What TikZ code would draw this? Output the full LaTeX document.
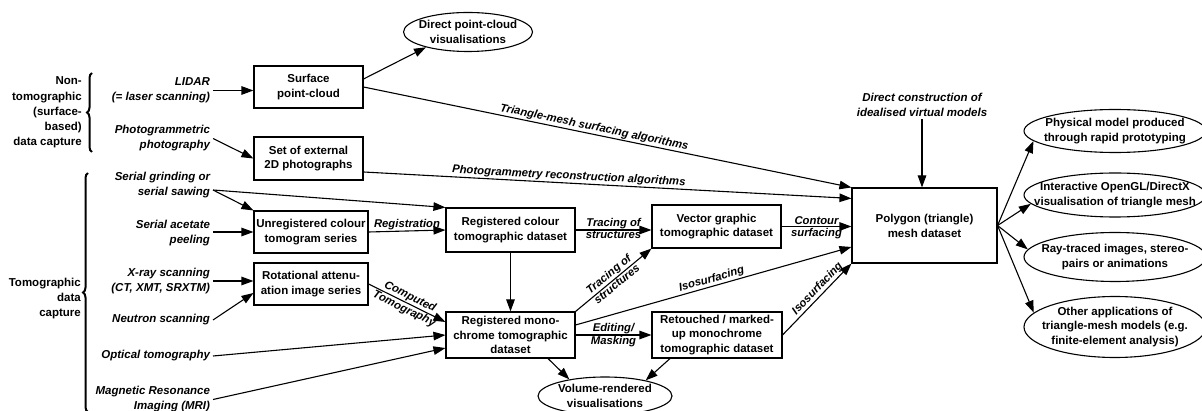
\documentclass[tikz,border=0pt]{standalone}
\usepackage{fontspec}
\setmainfont{Liberation Sans}
\usetikzlibrary{arrows.meta,shapes.geometric,decorations.pathreplacing,calc}
\begin{document}
\begin{tikzpicture}[x=1pt,y=-1pt,
 box/.style={draw,line width=1.1pt,align=center,font=\fontsize{11.5}{14.8}\selectfont\bfseries,inner sep=0pt},
 oval/.style={draw,ellipse,line width=1.1pt,align=center,font=\fontsize{11.5}{14.8}\selectfont\bfseries,inner xsep=-20pt,inner ysep=-2pt},
 src/.style={align=right,anchor=east,font=\fontsize{11.5}{15}\selectfont\bfseries\itshape,inner sep=0pt,outer sep=3pt},
 grp/.style={align=right,anchor=east,font=\fontsize{11.5}{15.2}\selectfont\bfseries,inner sep=0pt},
 arr/.style={-{Triangle[length=12pt,width=8.5pt]},line width=1.1pt},
 lbl/.style={font=\fontsize{11.3}{13}\selectfont\bfseries\itshape,inner sep=1pt},
 brc/.style={decorate,decoration={brace,amplitude=5pt},line width=2pt}]
\useasboundingbox (0,0) rectangle (1202,411);

% group labels and braces
\node[grp] (nt) at (82,112.5) {Non-\\tomographic\\(surface-\\based)\\data capture};
\node[grp] (tg) at (81,298.5) {Tomographic\\data\\capture};
\draw[brc] (92,152) -- (92,73);
\draw[brc] (88,412) -- (88,173);

% sources
\node[src] (lidar) at (213,90.5) {LIDAR\\(= laser scanning)};
\node[src] (photo) at (213,138.5) {Photogrammetric\\photography};
\node[src] (grind) at (213,185.5) {Serial grinding or\\serial sawing};
\node[src] (acet) at (213,233.5) {Serial acetate\\peeling};
\node[src] (xray) at (213,281) {X-ray scanning\\(CT, XMT, SRXTM)};
\node[src] (neut) at (213,320) {Neutron scanning};
\node[src] (opt) at (213,356) {Optical tomography};
\node[src] (mri) at (213,399.5) {Magnetic Resonance\\Imaging (MRI)};
\node[src,anchor=center,align=center] (dc) at (922,104.5) {Direct construction of\\idealised virtual models};

% boxes
\node[box,minimum width=109pt,minimum height=42pt] (sp) at (308.5,87) {Surface\\point-cloud};
\node[box,minimum width=109pt,minimum height=43pt] (ph) at (308.5,158.5) {Set of external\\2D photographs};
\node[box,minimum width=114pt,minimum height=42pt] (ur) at (311,232) {Unregistered colour\\tomogram series};
\node[box,minimum width=114pt,minimum height=42pt] (ra) at (311,284) {Rotational attenu-\\ation image series};
\node[box,minimum width=129pt,minimum height=44pt] (rc) at (510.5,230) {Registered colour\\tomographic dataset};
\node[box,minimum width=129pt,minimum height=46pt] (rm) at (510.5,335) {Registered mono-\\chrome tomographic\\dataset};
\node[box,minimum width=129pt,minimum height=43pt] (vg) at (716.5,226.5) {Vector graphic\\tomographic dataset};
\node[box,minimum width=130pt,minimum height=46pt] (rt) at (717,335) {Retouched / marked-\\up monochrome\\tomographic dataset};
\node[box,minimum width=145pt,minimum height=75pt] (pm) at (924.5,225.5) {Polygon (triangle)\\mesh dataset};

% ellipses
\node[oval,minimum width=129pt,minimum height=39pt] (dp) at (468,32) {Direct point-cloud\\visualisations};
\node[oval,minimum width=134pt,minimum height=38pt] (vr) at (605,396) {Volume-rendered\\visualisations};
\node[oval,minimum width=182pt,minimum height=43pt] (e1) at (1115,131) {Physical model produced\\through rapid prototyping};
\node[oval,minimum width=182pt,minimum height=44pt] (e2) at (1115,195) {Interactive OpenGL/DirectX\\visualisation of triangle mesh};
\node[oval,minimum width=182pt,minimum height=49pt] (e3) at (1115,257) {Ray-traced images, stereo-\\pairs or animations};
\node[oval,minimum width=182pt,minimum height=61pt] (e4) at (1115,327) {Other applications of\\triangle-mesh models (e.g.\\finite-element analysis)};

% connectors
\coordinate (g0) at ($(grind.east)+(0,4.5)$);
\draw[arr] (lidar.east) -- (lidar.east -| sp.west);
\draw[arr] (photo.east) -- (ph.west);
\draw[arr] (g0) -- (ur.north west);
\draw[arr] (g0) -- (rc.north west);
\draw[arr] (acet.east |- ur.west) -- (ur.west);
\draw[arr] (xray.east) -- (xray.east -| ra.west);
\draw[arr] (neut.east) -- ([yshift=-9pt]ra.west);
\draw[arr] (opt.east) -- (rm.west);
\draw[arr] (mri.east) -- ([yshift=-13pt]rm.west);
\draw[arr] ([yshift=8pt]sp.east) -- (dp.200);
\draw[arr] (sp.east) -- (pm.north west) node[lbl,sloped,above,pos=0.47] {Triangle-mesh surfacing algorithms};
\draw[arr] ([yshift=-13.5pt]ph.east) -- ([yshift=-11pt]pm.north west) node[lbl,sloped,above,pos=0.42] {Photogrammetry reconstruction algorithms};
\draw[arr] (ur.east) -- (rc.west) node[lbl,midway,above] {Registration};
\draw[arr] (ra.east) -- ([yshift=13pt]rm.west) node[lbl,sloped,above,midway] {Computed} node[lbl,sloped,below,midway] {Tomography};
\draw[arr] (rc.south) -- (rm.north);
\draw[arr] (rc.east) -- (rc.east -| vg.west) node[lbl,midway,above] {Tracing of} node[lbl,midway,below] {structures};
\draw[arr] (rm.north east) -- (vg.south west) node[lbl,sloped,above,midway] {Tracing of} node[lbl,sloped,below,midway] {structures};
\draw[arr] ([yshift=10pt]rm.east) -- ([yshift=-21.5pt]pm.west) node[lbl,sloped,above,midway] {Isosurfacing};
\draw[arr] (rm.east) -- (rt.west) node[lbl,midway,above] {Editing/} node[lbl,midway,below] {Masking};
\draw[arr] (vg.east) -- (vg.east -| pm.west) node[lbl,midway,above] {Contour} node[lbl,midway,below] {surfacing};
\draw[arr] (rt.east) -- (pm.south west) node[lbl,sloped,above,pos=0.58] {Isosurfacing};
\draw[arr] ([xshift=37.5pt]rm.south) -- (vr.155);
\draw[arr] ([xshift=-47pt]rt.south) -- (vr.21);
\draw[arr] (dc.south) -- (dc.south |- pm.north);
\draw[arr] (pm.east) -- (e1.187);
\draw[arr] (pm.east) -- (e2.186);
\draw[arr] (pm.east) -- (e3.175);
\draw[arr] (pm.east) -- (e4.170);
\end{tikzpicture}
\end{document}
